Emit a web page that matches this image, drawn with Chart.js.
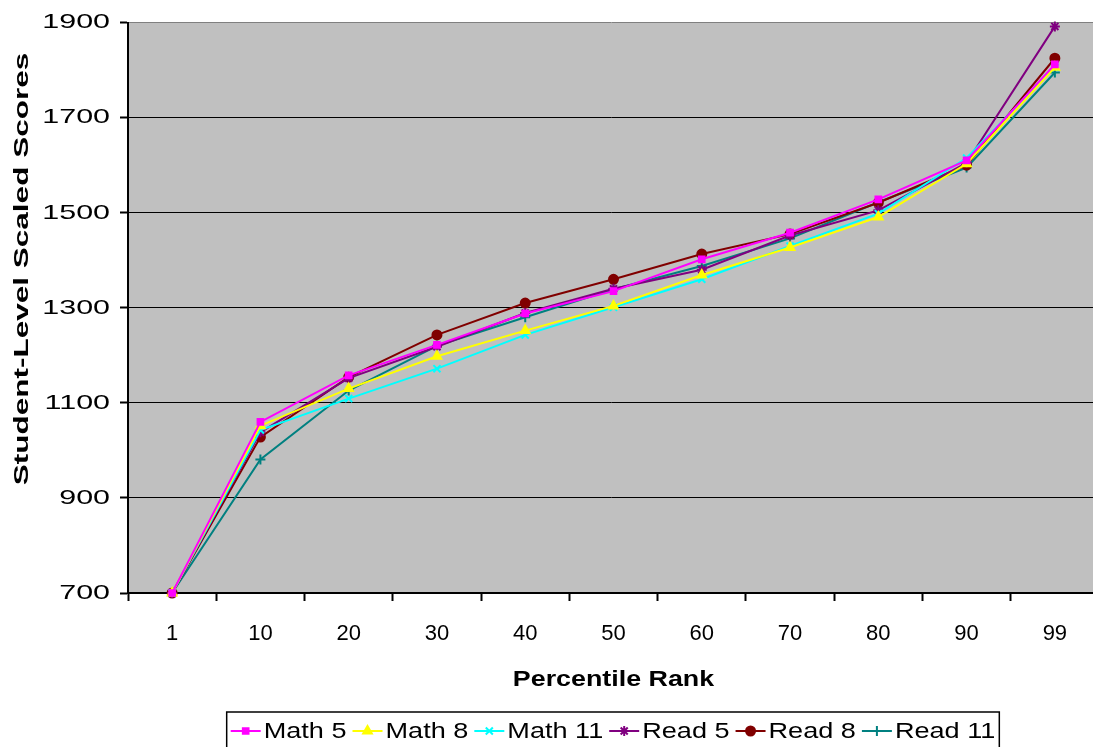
<!DOCTYPE html>
<html>
<head>
<meta charset="utf-8">
<script src="https://cdn.jsdelivr.net/npm/chart.js@4/dist/chart.umd.min.js"></script>
<style>
  html, body { margin: 0; padding: 0; background: #fff; overflow: hidden; }
  #wrap { width: 1093px; height: 747px; overflow: hidden; position: relative; }
</style>
</head>
<body>
<div id="wrap"><canvas id="chart" width="1093" height="747"></canvas></div>
<script>
// percentile ranks on the x axis
const ranks = ["1", "10", "20", "30", "40", "50", "60", "70", "80", "90", "99"];

// scaled scores
const math5  = [700, 1060, 1158, 1222, 1288, 1335, 1402, 1458, 1528, 1610, 1812];
const math8  = [700, 1052, 1130, 1198, 1252, 1304, 1369, 1427, 1491, 1603, 1806];
const math11 = [700, 1043, 1109, 1172, 1243, 1301, 1360, 1430, 1498, 1615, 1806];
const read5  = [700, 1038, 1152, 1218, 1289, 1340, 1380, 1452, 1505, 1605, 1892];
const read8  = [700, 1028, 1154, 1243, 1310, 1360, 1413, 1455, 1521, 1600, 1825];
const read11 = [700,  981, 1126, 1220, 1280, 1339, 1388, 1446, 1522, 1595, 1795];

const yMin = 700, yMax = 1900, yStep = 200;
const yTitle = "Student-Level Scaled Scores";

const FONT = "'Liberation Sans', Arial, sans-serif";

// the original renders its text wide; stretch per font (bold flag + px size)
const stretchMap = { "n21": 1.45, "n22": 1.0, "b22": 1.22, "b21": 1.5, "n21.5": 1.26 };

function stretchFor(font) {
  const m = font.match(/([\d.]+)px/);
  if (!m) return 1;
  const key = (/bold|700/.test(font) ? "b" : "n") + parseFloat(m[1]);
  return stretchMap[key] || 1;
}

function patchText(ctx) {
  const orig = ctx.fillText.bind(ctx);
  ctx.fillText = function (text, x, y) {
    const f = stretchFor(ctx.font);
    if (f === 1) return orig(text, x, y);
    ctx.save();
    ctx.translate(x, y);
    ctx.scale(f, 1);
    orig(text, 0, 0);
    ctx.restore();
  };
}

function series(label, data, color, style, radius) {
  return {
    label, data,
    borderColor: color,
    backgroundColor: color,
    pointBackgroundColor: color,
    pointBorderColor: color,
    pointStyle: style,
    pointRadius: radius,
    pointBorderWidth: 2,
    borderWidth: 2,
    tension: 0,
    clip: false
  };
}

const datasets = [
  series("Math 5", math5, "#FF00FF", "rect", 4),
  series("Math 8", math8, "#FFFF00", "triangle", 5),
  series("Math 11", math11, "#00FFFF", "crossRot", 5),
  series("Read 5", read5, "#800080", "star", 5),
  series("Read 8", read8, "#800000", "circle", 4.5),
  series("Read 11", read11, "#008080", "cross", 5)
];

// the plot runs a few pixels past the picture's right edge
const PLOT_RIGHT = 1099;
const widenPlot = {
  id: "widenPlot",
  afterLayout(chart) {
    const x = chart.scales.x;
    const a = chart.chartArea;
    a.right = PLOT_RIGHT;
    a.width = a.right - a.left;
    x.right = PLOT_RIGHT;
    x.width = x.right - x.left;
    x.configure();
    chart.scales.y.configure();
  }
};

// grey plot area
const plotBg = {
  id: "plotBg",
  beforeDraw(chart) {
    const { ctx, chartArea: a } = chart;
    ctx.save();
    ctx.fillStyle = "#C0C0C0";
    ctx.fillRect(a.left, a.top, a.right - a.left, a.bottom - a.top);
    ctx.restore();
  }
};

// y title sits a bit above the plot's middle in the original
const sideTitle = {
  id: "sideTitle",
  afterDraw(chart) {
    const ctx = chart.ctx;
    ctx.save();
    ctx.translate(22, 269);
    ctx.rotate(-Math.PI / 2);
    ctx.font = "bold 21px " + FONT;
    ctx.fillStyle = "#000";
    ctx.textAlign = "center";
    ctx.textBaseline = "middle";
    ctx.fillText(yTitle, 0, 0);
    ctx.restore();
  }
};

// boxed legend row: line sample with marker in the middle, then label
const boxLegend = {
  id: "boxLegend",
  afterDraw(chart) {
    const ctx = chart.ctx;
    ctx.save();
    ctx.font = "21.5px " + FONT;
    const sx = stretchFor(ctx.font);
    const lineW = 30, gapA = 3, gapB = 6, padX = 4;
    const items = chart.data.datasets.map(ds => ({ ds, tw: ctx.measureText(ds.label).width * sx }));
    let total = padX * 2;
    items.forEach((it, i) => { total += lineW + gapA + it.tw + (i < items.length - 1 ? gapB : 0); });
    const cx = 613;
    const top = 712, h = 40, cy = 731;
    let x = cx - total / 2;
    ctx.strokeStyle = "#000";
    ctx.lineWidth = 1.5;
    ctx.strokeRect(x, top, total, h);
    x += padX;
    items.forEach(it => {
      const ds = it.ds;
      ctx.strokeStyle = ds.borderColor;
      ctx.lineWidth = 2;
      ctx.beginPath();
      ctx.moveTo(x, cy);
      ctx.lineTo(x + lineW, cy);
      ctx.stroke();
      ctx.fillStyle = ds.borderColor;
      Chart.helpers.drawPoint(ctx, {
        pointStyle: ds.pointStyle, radius: ds.pointRadius, rotation: 0, borderWidth: 2
      }, x + lineW / 2, cy);
      x += lineW + gapA;
      ctx.fillStyle = "#000";
      ctx.textBaseline = "middle";
      ctx.textAlign = "left";
      ctx.fillText(ds.label, x, cy + 1);
      x += it.tw + gapB;
    });
    ctx.restore();
  }
};

const canvas = document.getElementById("chart");
patchText(canvas.getContext("2d"));

new Chart(canvas, {
  type: "line",
  data: { labels: ranks, datasets },
  options: {
    responsive: false,
    animation: false,
    layout: { padding: { top: 10, right: 0, bottom: 44, left: 0 } },
    plugins: {
      legend: { display: false },
      tooltip: { enabled: false }
    },
    scales: {
      x: {
        offset: true,
        grid: {
          offset: true,
          drawOnChartArea: false,
          drawTicks: true,
          tickLength: 8,
          tickWidth: 2,
          tickColor: "#000"
        },
        border: { color: "#000", width: 2 },
        ticks: { color: "#000", font: { family: FONT, size: 22 }, padding: 20, maxRotation: 0 },
        title: {
          display: true,
          text: "Percentile Rank",
          color: "#000",
          font: { family: FONT, size: 22, weight: "bold" },
          padding: { top: 12, bottom: 10 }
        },
        afterFit(scale) { scale.height = 110; }
      },
      y: {
        min: yMin,
        max: yMax,
        ticks: {
          stepSize: yStep,
          color: "#000",
          font: { family: FONT, size: 21 },
          padding: 10,
          callback: v => String(v)
        },
        grid: {
          color: ctx => (ctx.tick && ctx.tick.value === yMax ? "#808080" : "#000"),
          lineWidth: 1,
          tickLength: 8,
          tickWidth: 2,
          tickColor: "#000"
        },
        border: { color: "#000", width: 2 },
        title: { display: false },
        afterFit(scale) { scale.width = 128; }
      }
    }
  },
  plugins: [widenPlot, plotBg, sideTitle, boxLegend]
});
</script>
</body>
</html>
